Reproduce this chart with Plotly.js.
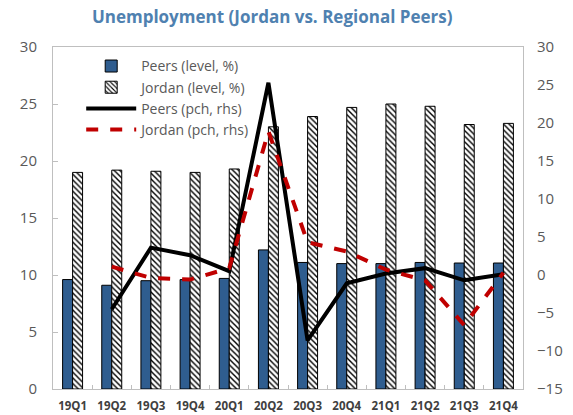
<!DOCTYPE html>
<html>
<head>
<meta charset="utf-8">
<script src="https://cdn.plot.ly/plotly-3.0.1.min.js"></script>
<style>html,body{margin:0;padding:0;background:#fff;}#chart{width:573px;height:415px;}</style>
</head>
<body>
<div id="chart"></div>
<script>
var quarters = ["19Q1","19Q2","19Q3","19Q4","20Q1","20Q2","20Q3","20Q4","21Q1","21Q2","21Q3","21Q4"];
var peersLevel = [9.6, 9.1, 9.5, 9.6, 9.7, 12.2, 11.1, 11.0, 11.0, 11.1, 11.05, 11.05];
var jordanLevel = [19.0, 19.2, 19.1, 19.0, 19.3, 23.0, 23.9, 24.7, 25.0, 24.8, 23.2, 23.3];
var peersPch = [null, -4.5, 3.6, 2.6, 0.5, 25.3, -8.6, -1.1, 0.2, 0.9, -0.7, 0.1];
var jordanPch = [null, 1.1, -0.4, -0.6, 0.9, 18.9, 4.3, 3.1, 0.7, -0.7, -6.6, 0.3];

var traces = [
  {type:"bar", name:"Peers (level, %)", x:quarters, y:peersLevel,
   marker:{color:"#2f5d8f", line:{color:"#000", width:1}}},
  {type:"bar", name:"Jordan (level, %)", x:quarters, y:jordanLevel,
   marker:{color:"#fff", line:{color:"#000", width:1},
           pattern:{shape:"\\", fgcolor:"#000", bgcolor:"#fff", size:4, solidity:0.35}}},
  {type:"scatter", mode:"lines", name:"Peers (pch, rhs)", x:quarters, y:peersPch, yaxis:"y2",
   line:{color:"#000", width:4}, connectgaps:false},
  {type:"scatter", mode:"lines", name:"Jordan (pch, rhs)", x:quarters, y:jordanPch, yaxis:"y2",
   line:{color:"#c00000", width:4, dash:"dash"}, connectgaps:false}
];

var layout = {
  width:573, height:415,
  margin:{l:53, r:50, t:47, b:26},
  paper_bgcolor:"#fff", plot_bgcolor:"#fff",
  font:{family:"Open Sans, Noto Sans, sans-serif", color:"#595959"},
  title:{text:"<b>Unemployment (Jordan vs. Regional Peers)</b>", x:0.475, xanchor:"center", y:0.96, yanchor:"middle",
         font:{size:17, color:"#4f81b0", family:"Open Sans, sans-serif"}},
  barmode:"group", bargap:0.49, bargroupgap:0,
  showlegend:true,
  legend:{x:0.06, y:0.99, xanchor:"left", yanchor:"top", bgcolor:"rgba(0,0,0,0)",
          font:{size:14, color:"#595959"}, tracegroupgap:0, itemwidth:50},
  xaxis:{type:"category", showline:true, linecolor:"#bfbfbf", linewidth:1, mirror:true,
         ticks:"inside", tickson:"boundaries", ticklen:4, tickcolor:"#bfbfbf", tickangle:0,
         tickfont:{size:11.5, color:"#404040", family:"Open Sans, sans-serif", weight:"bold"},
         ticklabelstandoff:6, showgrid:false, zeroline:false},
  yaxis:{range:[0,30], dtick:5, showline:true, linecolor:"#bfbfbf", linewidth:1,
         ticks:"inside", ticklen:5, tickcolor:"#bfbfbf", showgrid:false, zeroline:false,
         tickfont:{size:15, color:"#595959"}, ticklabelstandoff:12},
  yaxis2:{range:[-15,30], dtick:5, overlaying:"y", side:"right", showline:true,
          linecolor:"#bfbfbf", linewidth:1, ticks:"", showgrid:false, zeroline:false,
          tickfont:{size:15, color:"#595959"}, ticklabelstandoff:10}
};

Plotly.newPlot("chart", traces, layout, {displayModeBar:false, staticPlot:true});
</script>
</body>
</html>
